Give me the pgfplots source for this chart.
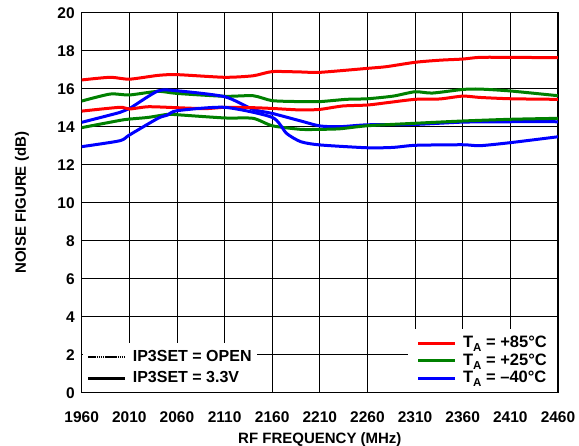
\documentclass[border=0pt]{standalone}
\usepackage{pgfplots}
\pgfplotsset{compat=1.18}
\usepackage{fontspec}
\setmainfont{Liberation Sans}
\definecolor{cred}{RGB}{255,0,0}
\definecolor{cgreen}{RGB}{0,128,0}
\definecolor{cblue}{RGB}{0,0,255}
\newcommand{\lf}{\bfseries\fontsize{15}{17}\selectfont}
\newcommand{\tf}{\bfseries\fontsize{15.5}{17}\selectfont}
\newcommand{\gf}{\bfseries\fontsize{16}{18}\selectfont}
\newcommand{\rf}{\bfseries\fontsize{16.5}{18}\selectfont}
\newcommand{\TA}{T\raisebox{-4pt}{\fontsize{11.5}{12}\selectfont A}}
\begin{document}
\begin{tikzpicture}
\useasboundingbox (-81.7pt,-53.3pt) rectangle (497.3pt,392.7pt);
\pgfplotsset{
  common/.style={
    at={(0pt,0pt)}, anchor=south west,
    width=476.3pt, height=380pt, scale only axis,
    xmin=1960, xmax=2460, ymin=0, ymax=20,
  },
  lineimg/.style={legend image code/.code={\draw[##1] (0pt,0pt) -- (37pt,0pt);}},
}
\begin{axis}[
  common,
  xtick={1960,2010,...,2460}, ytick={0,2,...,20},
  grid=major, major grid style={black, line width=0.8pt},
  axis line style={line width=1.4pt},
  tick style={draw=none},
  /pgf/number format/assume math mode=true,
  /pgf/number format/1000 sep={},
  tick label style={font=\tf},
  xticklabel style={yshift=-15pt},
  yticklabel style={xshift=-3.5pt},
  xlabel={RF FREQUENCY (MHz)}, ylabel={NOISE FIGURE (dB)},
  label style={font=\lf},
  xlabel style={at={(axis description cs:0.5,-0.135)}, anchor=base},
  ylabel style={at={(axis description cs:-0.117,0.5)}, anchor=base},
  lineimg,
  legend style={at={(1,0)}, anchor=south east, xshift=-0.7pt, yshift=0.7pt,
    fill=white, draw=none, font=\rf, inner xsep=9pt, inner ysep=5pt,
    row sep=0pt,
    /tikz/every odd column/.append style={column sep=5pt},
    nodes={inner sep=1.25pt, text height=12pt, text depth=3pt}},
  legend cell align=left,
  every axis plot/.append style={line width=3pt, smooth, tension=0.4},
]
% +85C upper
\addplot[cred] coordinates {(1960,16.46)(1990,16.6)(2010,16.5)(2040,16.7)(2060,16.74)(2110,16.6)(2140,16.68)(2160,16.9)(2190,16.88)(2210,16.86)(2260,17.07)(2280,17.16)(2310,17.39)(2336,17.5)(2360,17.56)(2378,17.65)(2410,17.65)(2460,17.63)};
\addlegendentry{\TA{} = +85°C}
% +25C upper
\addplot[cgreen] coordinates {(1960,15.35)(1990,15.72)(2010,15.67)(2040,15.86)(2060,15.75)(2110,15.6)(2140,15.63)(2160,15.37)(2190,15.32)(2210,15.32)(2238,15.44)(2260,15.47)(2287,15.61)(2310,15.84)(2328,15.77)(2360,15.96)(2378,15.98)(2410,15.88)(2460,15.63)};
\addlegendentry{\TA{} = +25°C}
% -40C upper
\addplot[cblue] coordinates {(1960,14.23)(2000,14.75)(2010,14.95)(2040,15.88)(2060,15.89)(2110,15.58)(2140,14.91)(2160,14.7)(2190,14.3)(2210,14.04)(2231,14.0)(2260,14.1)(2310,14.12)(2360,14.24)(2410,14.26)(2460,14.26)};
\addlegendentry{\TA{} = –40°C}
% +85C lower
\addplot[cred, forget plot] coordinates {(1960,14.82)(2000,15.02)(2010,14.93)(2030,15.05)(2060,15.0)(2090,14.95)(2110,15.02)(2140,15.0)(2160,14.96)(2190,14.88)(2210,14.91)(2234,15.09)(2260,15.14)(2280,15.26)(2310,15.44)(2336,15.46)(2360,15.61)(2378,15.54)(2410,15.47)(2460,15.44)};
% +25C lower
\addplot[cgreen, forget plot] coordinates {(1960,13.95)(2000,14.33)(2010,14.4)(2030,14.49)(2050,14.65)(2060,14.63)(2110,14.46)(2140,14.44)(2160,14.05)(2190,13.86)(2210,13.86)(2231,13.89)(2260,14.05)(2310,14.18)(2360,14.3)(2410,14.39)(2460,14.44)};
% -40C lower
\addplot[cblue, forget plot] coordinates {(1960,12.95)(2000,13.26)(2010,13.56)(2040,14.44)(2050,14.61)(2060,14.84)(2110,15.02)(2160,14.49)(2175,13.65)(2190,13.21)(2210,13.04)(2260,12.89)(2287,12.91)(2310,13.02)(2360,13.05)(2378,13.0)(2410,13.16)(2460,13.47)};
\end{axis}
\begin{axis}[
  common, hide axis, lineimg,
  legend style={at={(0,0)}, anchor=south west, xshift=0.7pt, yshift=0.7pt,
    fill=white, draw=none, font=\gf, inner xsep=4pt, inner ysep=5pt,
    row sep=3.5pt,
    /tikz/every odd column/.append style={column sep=5pt},
    nodes={inner sep=1.25pt, text height=12pt, text depth=3pt}},
  legend cell align=left,
]
\addlegendimage{black, line width=1.6pt, dash pattern=on 1.6pt off 0.5pt}
\addlegendentry{IP3SET = OPEN}
\addlegendimage{black, line width=3pt}
\addlegendentry{IP3SET = 3.3V}
\end{axis}
\end{tikzpicture}
\end{document}
